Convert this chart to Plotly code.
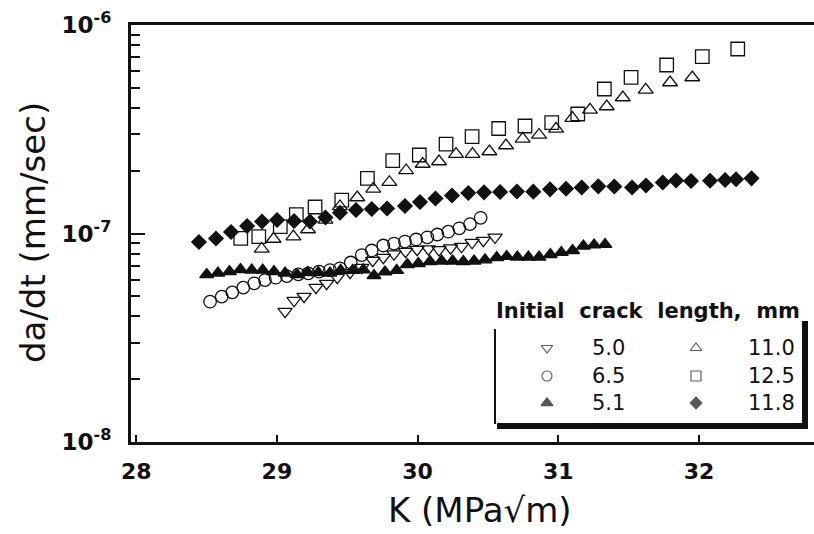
import plotly.graph_objects as go

# ---------------- data ----------------
k_50 = [29.058, 29.122, 29.193, 29.278, 29.353, 29.429, 29.520, 29.603, 29.681, 29.756,
        29.832, 29.914, 29.996, 30.077, 30.152, 30.234, 30.312, 30.387, 30.467, 30.550]
r_50 = [4.23e-8, 4.77e-8, 4.99e-8, 5.51e-8, 5.76e-8, 6.15e-8, 6.50e-8, 6.87e-8, 7.42e-8, 7.67e-8,
        7.97e-8, 8.20e-8, 8.38e-8, 8.43e-8, 8.35e-8, 8.52e-8, 8.66e-8, 9.05e-8, 9.26e-8, 9.59e-8]

k_65 = [28.525, 28.608, 28.683, 28.761, 28.839, 28.915, 28.991, 29.070, 29.152, 29.223,
        29.299, 29.377, 29.448, 29.525, 29.603, 29.674, 29.756, 29.832, 29.910, 29.989,
        30.069, 30.140, 30.218, 30.296, 30.372, 30.448]
r_65 = [4.71e-8, 4.98e-8, 5.22e-8, 5.50e-8, 5.77e-8, 5.98e-8, 6.14e-8, 6.25e-8, 6.37e-8, 6.44e-8,
        6.56e-8, 6.68e-8, 6.81e-8, 7.26e-8, 7.88e-8, 8.29e-8, 8.76e-8, 8.95e-8, 9.15e-8, 9.36e-8,
        9.59e-8, 9.89e-8, 1.020e-7, 1.059e-7, 1.110e-7, 1.189e-7]

k_51 = [28.501, 28.581, 28.663, 28.741, 28.821, 28.899, 28.979, 29.058, 29.143, 29.218,
        29.294, 29.377, 29.453, 29.539, 29.614, 29.690, 29.768, 29.851, 29.927, 30.005,
        30.088, 30.171, 30.249, 30.325, 30.401, 30.479, 30.562, 30.633, 30.709, 30.787,
        30.863, 30.943, 31.021, 31.101, 31.178, 31.254, 31.332]
r_51 = [6.36e-8, 6.46e-8, 6.57e-8, 6.72e-8, 6.68e-8, 6.67e-8, 6.57e-8, 6.46e-8, 6.36e-8, 6.50e-8,
        6.50e-8, 6.46e-8, 6.65e-8, 6.65e-8, 6.70e-8, 6.29e-8, 6.54e-8, 6.65e-8, 7.10e-8, 7.18e-8,
        7.34e-8, 7.38e-8, 7.38e-8, 7.34e-8, 7.38e-8, 7.48e-8, 7.67e-8, 7.76e-8, 7.71e-8, 7.71e-8,
        7.71e-8, 7.93e-8, 8.11e-8, 8.29e-8, 8.71e-8, 8.81e-8, 8.86e-8]

k_110 = [28.892, 28.976, 29.117, 29.221, 29.345, 29.448, 29.571, 29.685, 29.799, 29.918,
         30.036, 30.152, 30.273, 30.390, 30.510, 30.628, 30.747, 30.863, 30.984, 31.100,
         31.225, 31.344, 31.458, 31.621, 31.794, 31.952]
r_110 = [8.43e-8, 9.41e-8, 9.67e-8, 1.045e-7, 1.163e-7, 1.348e-7, 1.488e-7, 1.638e-7, 1.762e-7, 2.006e-7,
         2.154e-7, 2.215e-7, 2.401e-7, 2.401e-7, 2.474e-7, 2.643e-7, 2.846e-7, 2.969e-7, 3.178e-7, 3.573e-7,
         3.921e-7, 4.065e-7, 4.490e-7, 4.888e-7, 5.298e-7, 5.600e-7]

k_125 = [28.743, 28.871, 29.024, 29.138, 29.271, 29.461, 29.643, 29.823, 30.012, 30.202,
         30.387, 30.576, 30.763, 30.953, 31.138, 31.327, 31.517, 31.770, 32.023, 32.275]
r_125 = [9.48e-8, 9.67e-8, 1.080e-7, 1.233e-7, 1.340e-7, 1.447e-7, 1.839e-7, 2.235e-7, 2.379e-7, 2.681e-7,
         2.913e-7, 3.188e-7, 3.277e-7, 3.399e-7, 3.743e-7, 4.932e-7, 5.613e-7, 6.428e-7, 7.046e-7, 7.672e-7]

k_118 = [28.446, 28.567, 28.674, 28.788, 28.894, 29.001, 29.122, 29.235, 29.345, 29.448,
         29.562, 29.674, 29.783, 29.910, 30.017, 30.127, 30.244, 30.360, 30.472, 30.586,
         30.706, 30.822, 30.941, 31.055, 31.166, 31.284, 31.398, 31.524, 31.623, 31.742,
         31.837, 31.943, 32.078, 32.185, 32.263, 32.373]
r_118 = [9.10e-8, 9.46e-8, 1.017e-7, 1.086e-7, 1.142e-7, 1.161e-7, 1.148e-7, 1.142e-7, 1.193e-7, 1.258e-7,
         1.296e-7, 1.311e-7, 1.318e-7, 1.355e-7, 1.416e-7, 1.472e-7, 1.521e-7, 1.564e-7, 1.576e-7, 1.581e-7,
         1.590e-7, 1.587e-7, 1.629e-7, 1.640e-7, 1.662e-7, 1.684e-7, 1.680e-7, 1.662e-7, 1.699e-7, 1.756e-7,
         1.795e-7, 1.785e-7, 1.791e-7, 1.805e-7, 1.820e-7, 1.839e-7]

legend_title = "Initial  crack  length,  mm"
legend_labels = ["5.0", "6.5", "5.1", "11.0", "12.5", "11.8"]
x_ticks = [28, 29, 30, 31, 32]
y_ticks = [1e-8, 1e-7, 1e-6]
y_ticktext = ["<b>10<sup>-8</sup></b>", "<b>10<sup>-7</sup></b>", "<b>10<sup>-6</sup></b>"]

# ---------------- styles ----------------
INK = "#111111"
series = [
    (k_50, r_50, "triangle-down-open", 12.5, "5.0"),
    (k_65, r_65, "circle-open", 12.5, "6.5"),
    (k_51, r_51, "triangle-up", 12, "5.1"),
    (k_110, r_110, "triangle-up-open", 13, "11.0"),
    (k_125, r_125, "square-open", 13.5, "12.5"),
    (k_118, r_118, "diamond", 11, "11.8"),
]

# plot-area geometry in pixels
L, R, T, B = 131, 814, 25, 442
W, H = 814, 534


def px(xp):
    return (xp - L) / (R - L)


def py(yp):
    return (B - yp) / (B - T)


fig = go.Figure()
for xs, ys, sym, sz, name in series:
    fig.add_trace(go.Scatter(
        x=xs, y=ys, mode="markers", name=name, showlegend=False,
        marker=dict(symbol=sym, size=sz, color=INK, line=dict(color=INK, width=1.3)),
        cliponaxis=False,
    ))

# hand-built legend: symbols on an overlay axis in plot-area fractions
leg_sym = ["triangle-down-open", "circle-open", "triangle-up", "triangle-up-open", "square-open", "diamond"]
leg_sz = [10, 10, 10.5, 10, 10, 9]
sym_x = [547, 547, 547, 696, 696, 696]
row_y = [348, 376, 403, 348, 376, 403]
fig.add_trace(go.Scatter(
    x=[px(v) for v in sym_x], y=[py(v) for v in row_y], xaxis="x2", yaxis="y2",
    mode="markers", showlegend=False, hoverinfo="skip",
    marker=dict(symbol=leg_sym, size=leg_sz, color=INK, line=dict(color=INK, width=1.1)),
))

annotations = []
lab_x = [590, 590, 590, 746, 746, 746]
for t, xl, yl in zip(legend_labels, lab_x, row_y):
    annotations.append(dict(x=px(xl), y=py(yl), xref="paper", yref="paper", text=t,
                            showarrow=False, xanchor="left", yanchor="middle",
                            font=dict(family="DejaVu Sans", size=21, color=INK)))
annotations.append(dict(x=px(648), y=py(311), xref="paper", yref="paper", text="<b>" + legend_title + "</b>",
                        showarrow=False, xanchor="center", yanchor="middle",
                        font=dict(family="DejaVu Sans", size=21, color=INK)))
# axis titles
annotations.append(dict(x=px(480), y=py(510), xref="paper", yref="paper", text="K (MPa√m)",
                        showarrow=False, xanchor="center", yanchor="middle",
                        font=dict(family="DejaVu Sans", size=34, color=INK)))
annotations.append(dict(x=px(33), y=py(233), xref="paper", yref="paper", text="da/dt (mm/sec)",
                        showarrow=False, xanchor="center", yanchor="middle", textangle=-90,
                        font=dict(family="DejaVu Sans", size=34, color=INK)))

shapes = [
    # legend box: thin left, thick shadow right & bottom
    dict(type="line", xref="paper", yref="paper", x0=px(495), x1=px(495), y0=py(329), y1=py(424),
         line=dict(color=INK, width=2)),
    dict(type="rect", xref="paper", yref="paper", x0=px(802), x1=px(808), y0=py(321), y1=py(429),
         line=dict(width=0), fillcolor=INK),
    dict(type="rect", xref="paper", yref="paper", x0=px(497), x1=px(808), y0=py(423), y1=py(429),
         line=dict(width=0), fillcolor=INK),
]

fig.update_layout(
    width=W, height=H,
    margin=dict(l=L, r=W - R, t=T, b=H - B, pad=0),
    paper_bgcolor="white", plot_bgcolor="white",
    showlegend=False,
    annotations=annotations,
    shapes=shapes,
    xaxis=dict(
        range=[27.963, 32.817], tickvals=x_ticks, ticktext=[f"<b>{v}</b>" for v in x_ticks],
        ticks="inside", ticklen=7, tickwidth=2, tickcolor=INK,
        showline=True, linewidth=3, linecolor=INK, mirror=True,
        showgrid=False, zeroline=False,
        tickfont=dict(family="DejaVu Sans", size=22, color=INK),
        ticklabelstandoff=8,
    ),
    yaxis=dict(
        type="log", range=[-8, -6], tickvals=y_ticks, ticktext=y_ticktext,
        ticks="inside", ticklen=14, tickwidth=2, tickcolor=INK,
        showline=True, linewidth=3, linecolor=INK, mirror=False,
        showgrid=False, zeroline=False,
        tickfont=dict(family="DejaVu Sans", size=23, color=INK),
        ticklabelstandoff=12,
        minor=dict(ticks="inside", ticklen=9, tickwidth=2, tickcolor=INK,
                   tickvals=[m * 10 ** e for e in (-8, -7) for m in range(2, 10)], showgrid=False),
    ),
    xaxis2=dict(overlaying="x", range=[0, 1], visible=False, fixedrange=True),
    yaxis2=dict(overlaying="y", range=[0, 1], visible=False, fixedrange=True),
)

fig.write_html("out.html", config={"displayModeBar": False},
               post_script="document.body.style.margin='0';")
